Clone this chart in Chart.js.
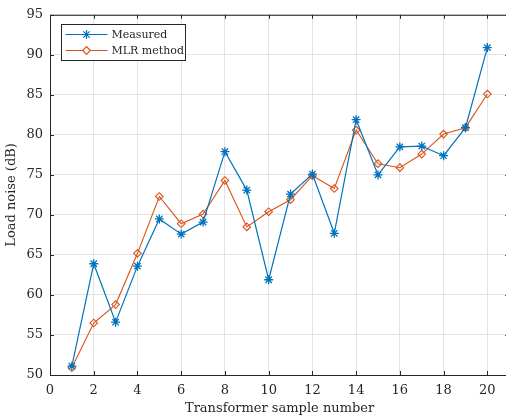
<!DOCTYPE html>
<html lang="en">
<head>
<meta charset="UTF-8">
<title>Load noise</title>
<script src="https://cdn.jsdelivr.net/npm/chart.js"></script>
<style>
  body { margin: 0; background: #fff; overflow: hidden; }
  #wrap { width: 515px; height: 418px; }
</style>
</head>
<body>
<div id="wrap"><canvas id="c" width="515" height="418"></canvas></div>
<script>
// values
const samples  = [1, 2, 3, 4, 5, 6, 7, 8, 9, 10, 11, 12, 13, 14, 15, 16, 17, 18, 19, 20];
const measured = [51.1, 63.9, 56.6, 63.6, 69.5, 67.6, 69.1, 77.9, 73.1, 61.9, 72.6, 75.1, 67.7, 81.9, 75.0, 78.5, 78.6, 77.4, 80.9, 90.9];
const mlr      = [50.9, 56.5, 58.8, 65.2, 72.3, 68.9, 70.1, 74.3, 68.5, 70.4, 71.9, 74.9, 73.3, 80.6, 76.4, 75.9, 77.6, 80.1, 80.9, 85.1];
const xTicks = [0, 2, 4, 6, 8, 10, 12, 14, 16, 18, 20];
const yTicks = [50, 55, 60, 65, 70, 75, 80, 85, 90, 95];

const BLUE = '#0072BD', ORANGE = '#D95319';
const FONT = 'DejaVu Serif';

function pts(ys) { return samples.map((x, i) => ({ x: x, y: ys[i] })); }

// box with inward ticks, MATLAB style
const boxPlugin = {
  id: 'box',
  afterDatasetsDraw(chart) {
    const { ctx, chartArea: a, scales: { x, y } } = chart;
    ctx.save();
    ctx.strokeStyle = '#262626';
    ctx.lineWidth = 1;
    ctx.beginPath();
    ctx.rect(a.left + 0.5, a.top + 0.5, a.right - a.left, a.bottom - a.top);
    xTicks.forEach(v => {
      const px = Math.round(x.getPixelForValue(v)) + 0.5;
      ctx.moveTo(px, a.bottom); ctx.lineTo(px, a.bottom - 4);
      ctx.moveTo(px, a.top); ctx.lineTo(px, a.top + 4);
    });
    yTicks.forEach(v => {
      const py = Math.round(y.getPixelForValue(v)) + 0.5;
      ctx.moveTo(a.left, py); ctx.lineTo(a.left + 4, py);
      ctx.moveTo(a.right, py); ctx.lineTo(a.right - 4, py);
    });
    ctx.stroke();
    ctx.restore();
  }
};

// legend box in the top-left corner
const legendPlugin = {
  id: 'legendBox',
  afterDraw(chart) {
    const ctx = chart.ctx;
    const bx = 61.5, by = 24.5, bw = 124, bh = 36;
    ctx.save();
    ctx.fillStyle = '#fff';
    ctx.fillRect(bx, by, bw, bh);
    ctx.strokeStyle = '#262626';
    ctx.lineWidth = 1;
    ctx.strokeRect(bx, by, bw, bh);
    ctx.font = '11px "' + FONT + '"';
    ctx.textBaseline = 'middle';
    chart.data.datasets.forEach((ds, i) => {
      const yy = by + 10 + i * 16;
      ctx.strokeStyle = ds.borderColor;
      ctx.lineWidth = 1.2;
      ctx.beginPath();
      ctx.moveTo(bx + 4, yy); ctx.lineTo(bx + 46, yy);
      ctx.stroke();
      ctx.fillStyle = '#fff';
      Chart.helpers.drawPoint(ctx, {
        pointStyle: ds.pointStyle, radius: ds.pointRadius, borderWidth: ds.pointBorderWidth
      }, bx + 25, yy);
      ctx.fillStyle = '#262626';
      ctx.fillText(ds.label, bx + 50, yy + 1);
    });
    ctx.restore();
  }
};

new Chart(document.getElementById('c'), {
  type: 'line',
  data: {
    datasets: [
      { label: 'Measured', data: pts(measured), borderColor: BLUE, backgroundColor: BLUE,
        borderWidth: 1.2, pointStyle: 'star', pointRadius: 4.5, pointBorderWidth: 1.3, tension: 0 },
      { label: 'MLR method', data: pts(mlr), borderColor: ORANGE, backgroundColor: 'rgba(0,0,0,0)',
        borderWidth: 1.1, pointStyle: 'rectRot', pointRadius: 3.8, pointBorderWidth: 1.1, tension: 0 }
    ]
  },
  options: {
    responsive: false,
    animation: false,
    layout: { padding: { top: 13, right: 3, left: 0, bottom: 0 } },
    plugins: { legend: { display: false }, tooltip: { enabled: false } },
    scales: {
      x: {
        type: 'linear', min: 0, max: 21,
        afterBuildTicks: s => { s.ticks = xTicks.map(v => ({ value: v })); },
        afterFit: s => { s.height = 43; },
        grid: { color: '#e3e3e3', drawTicks: false },
        border: { display: false },
        ticks: { padding: 8, color: '#262626', font: { family: FONT, size: 13 } },
        title: { display: true, text: 'Transformer sample number', color: '#262626',
                 font: { family: FONT, size: 13 }, padding: { top: 0, bottom: 2 } }
      },
      y: {
        min: 50, max: 95,
        afterBuildTicks: s => { s.ticks = yTicks.map(v => ({ value: v })); },
        afterFit: s => { s.width = 50; },
        grid: { color: '#e3e3e3', drawTicks: false },
        border: { display: false },
        ticks: { padding: 7, color: '#262626', font: { family: FONT, size: 13 } },
        title: { display: true, text: 'Load noise (dB)', color: '#262626',
                 font: { family: FONT, size: 13 }, padding: { top: 4, bottom: 0 } }
      }
    }
  },
  plugins: [boxPlugin, legendPlugin]
});
</script>
</body>
</html>
